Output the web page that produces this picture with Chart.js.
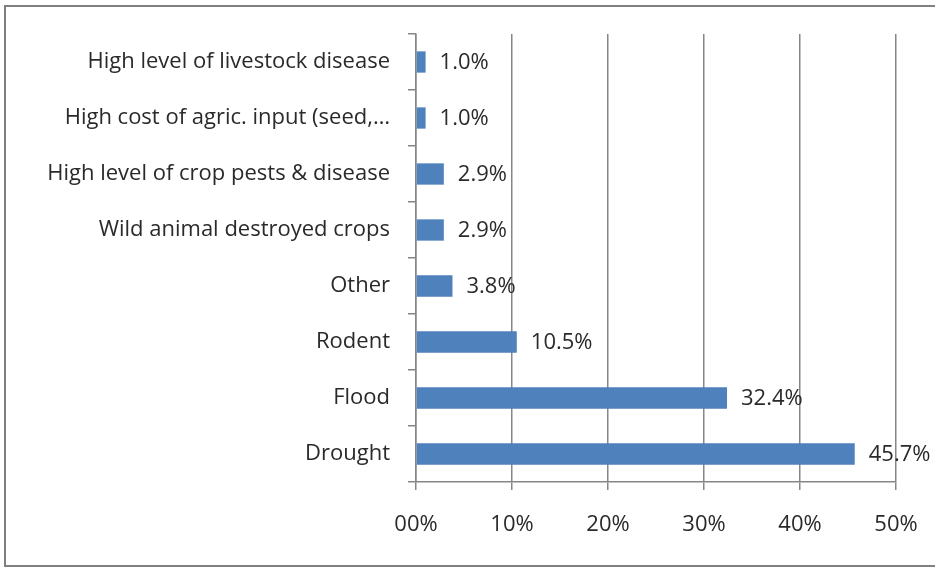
<!DOCTYPE html>
<html>
<head>
<meta charset="utf-8">
<script src="https://cdn.jsdelivr.net/npm/chart.js@4.4.1/dist/chart.umd.min.js"></script>
<style>
  html, body { margin: 0; padding: 0; background: #fff; }
  #wrap { width: 935px; height: 568px; position: relative; }
</style>
</head>
<body>
<div id="wrap"><canvas id="problemsChart" width="935" height="568"></canvas></div>
<script>
// ===========================
// DATA
// ===========================
const categories = [
  'High level of livestock disease',
  'High cost of agric. input (seed,\u2026',
  'High level of crop pests & disease',
  'Wild animal destroyed crops',
  'Other',
  'Rodent',
  'Flood',
  'Drought'
];
const shares = [1.0, 1.0, 2.9, 2.9, 3.8, 10.5, 32.4, 45.7];
const xTickLabels = ['00%', '10%', '20%', '30%', '40%', '50%'];

const FONT = 'Open Sans';
const AXIS_GREY = '#868686';
const TEXT = '#2a2a2a';

// ===========================
// PLUGINS
// ===========================
// outer frame around the whole chart
const framePlugin = {
  id: 'frame',
  beforeDraw(chart) {
    const ctx = chart.ctx;
    ctx.save();
    ctx.fillStyle = '#fff';
    ctx.fillRect(0, 0, chart.width, chart.height);
    ctx.strokeStyle = '#808080';
    ctx.lineWidth = 2;
    ctx.strokeRect(5, 6, chart.width + 10, chart.height - 8);
    ctx.restore();
  }
};

// value labels right of each bar
const valueLabels = {
  id: 'valueLabels',
  afterDatasetsDraw(chart) {
    const ctx = chart.ctx;
    const meta = chart.getDatasetMeta(0);
    ctx.save();
    ctx.font = '22px "' + FONT + '"';
    ctx.fillStyle = TEXT;
    ctx.textBaseline = 'middle';
    ctx.textAlign = 'left';
    meta.data.forEach((bar, i) => {
      ctx.fillText(shares[i].toFixed(1) + '%', bar.x + 14, bar.y + 1);
    });
    ctx.restore();
  }
};

// ===========================
// CHART
// ===========================
const ctx = document.getElementById('problemsChart').getContext('2d');
new Chart(ctx, {
  type: 'bar',
  data: {
    labels: categories,
    datasets: [{
      data: shares,
      backgroundColor: '#4F81BD',
      barPercentage: 0.76,
      categoryPercentage: 0.5
    }]
  },
  options: {
    indexAxis: 'y',
    responsive: false,
    animation: false,
    devicePixelRatio: 1,
    layout: { padding: { top: 34, right: 39, bottom: 0, left: 0 } },
    plugins: {
      legend: { display: false },
      tooltip: { enabled: false }
    },
    scales: {
      x: {
        min: 0,
        max: 50,
        afterFit: s => { s.height = 86; s.paddingRight = 0; s.paddingLeft = 0; },
        ticks: {
          stepSize: 10,
          padding: 22,
          color: TEXT,
          font: { family: FONT, size: 22 },
          callback: (v, i) => xTickLabels[i]
        },
        grid: { color: AXIS_GREY, lineWidth: 1.5, tickLength: 8 },
        border: { color: AXIS_GREY, width: 1.5 }
      },
      y: {
        afterFit: s => { s.width = 416; },
        ticks: {
          padding: 18,
          color: TEXT,
          font: { family: FONT, size: 22 }
        },
        grid: { drawOnChartArea: false, color: AXIS_GREY, lineWidth: 1.5, tickLength: 8 },
        border: { color: AXIS_GREY, width: 1.5 }
      }
    }
  },
  plugins: [framePlugin, valueLabels]
});
</script>
</body>
</html>
